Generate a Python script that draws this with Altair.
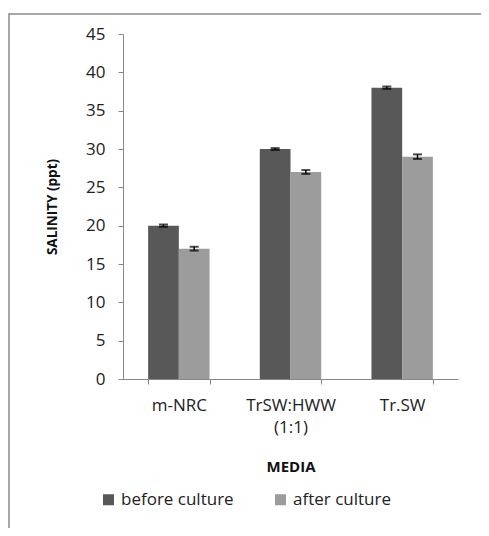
import altair as alt
import pandas as pd

media = ["m-NRC", "TrSW:HWW (1:1)", "Tr.SW"]
groups = ["before culture", "after culture"]
before = [20, 30, 38]
after = [17, 27, 29]
before_err = [0.15, 0.12, 0.15]
after_err = [0.25, 0.25, 0.3]
colors = ["#585858", "#9c9c9c"]
y_ticks = [0, 5, 10, 15, 20, 25, 30, 35, 40, 45]

rows = []
for i, m in enumerate(media):
    rows.append({"media": m, "group": groups[0], "value": before[i],
                 "lo": before[i] - before_err[i], "hi": before[i] + before_err[i]})
    rows.append({"media": m, "group": groups[1], "value": after[i],
                 "lo": after[i] - after_err[i], "hi": after[i] + after_err[i]})
df = pd.DataFrame(rows)

FONT = "Open Sans"

x_axis = alt.Axis(title="MEDIA", labelAngle=0, tickBand="extent",
                  labelExpr="datum.value == 'TrSW:HWW (1:1)' ? ['TrSW:HWW', '(1:1)'] : datum.label",
                  labelPadding=13, labelLineHeight=22,
                  titleY=87, titleBaseline="middle",
                  titleFontSize=15, titleFontWeight="bold")
x_scale = alt.Scale(paddingInner=0.45, paddingOuter=0.225)
y_axis = alt.Axis(title="SALINITY (ppt)", values=y_ticks, grid=False, labelOverlap=False,
                  labelPadding=13, titleX=-71, titleY=172.5,
                  titleAlign="center", titleBaseline="middle", titleAngle=270,
                  titleFontSize=13.5, titleFontWeight="bold")
y_scale = alt.Scale(domain=[0, 45], nice=False)

x_enc = alt.X("media:N", sort=media, scale=x_scale, axis=x_axis)
xo_enc = alt.XOffset("group:N", sort=groups,
                     scale=alt.Scale(domain=groups, paddingInner=0, paddingOuter=0))

bars = alt.Chart(df).mark_bar().encode(
    x=x_enc,
    xOffset=xo_enc,
    y=alt.Y("value:Q", scale=y_scale, axis=y_axis),
    color=alt.Color("group:N", sort=groups,
                    scale=alt.Scale(domain=groups, range=colors),
                    legend=alt.Legend(title=None, orient="none", direction="horizontal",
                                      legendX=-23, legendY=457, symbolType="square",
                                      symbolSize=121, symbolStrokeWidth=0,
                                      labelFontSize=17, columnPadding=38,
                                      labelFont=FONT, labelColor="#222")),
)

rules = alt.Chart(df).mark_rule(color="black", strokeWidth=1.5).encode(
    x=x_enc, xOffset=xo_enc,
    y=alt.Y("lo:Q", scale=y_scale, axis=y_axis), y2="hi:Q")

cap_lo = alt.Chart(df).mark_tick(color="black", thickness=2, size=9).encode(
    x=x_enc, xOffset=xo_enc, y=alt.Y("lo:Q", scale=y_scale, axis=y_axis))
cap_hi = alt.Chart(df).mark_tick(color="black", thickness=2, size=9).encode(
    x=x_enc, xOffset=xo_enc, y=alt.Y("hi:Q", scale=y_scale, axis=y_axis))

frame = alt.Chart(alt.Data(values=[{"a": 1}])).mark_rect(
    fill=None, stroke="#8a8a8a", strokeWidth=1.5).encode(
    x=alt.value(-114), x2=alt.value(500), y=alt.value(-20), y2=alt.value(600))

chart = alt.layer(frame, bars, rules, cap_lo, cap_hi).properties(
    width=335, height=345,
    autosize=alt.AutoSizeParams(type="none"),
    padding={"left": 115, "top": 26, "right": 23, "bottom": 149},
).configure_view(stroke=None).configure_axis(
    domainColor="#888888", tickColor="#888888", tickSize=5,
    labelFont=FONT, titleFont=FONT, labelFontSize=17, labelColor="#222222",
    titleColor="#111111",
).configure_legend(labelFont=FONT)

chart.save("out.html", embed_options={"renderer": "svg", "actions": False})
